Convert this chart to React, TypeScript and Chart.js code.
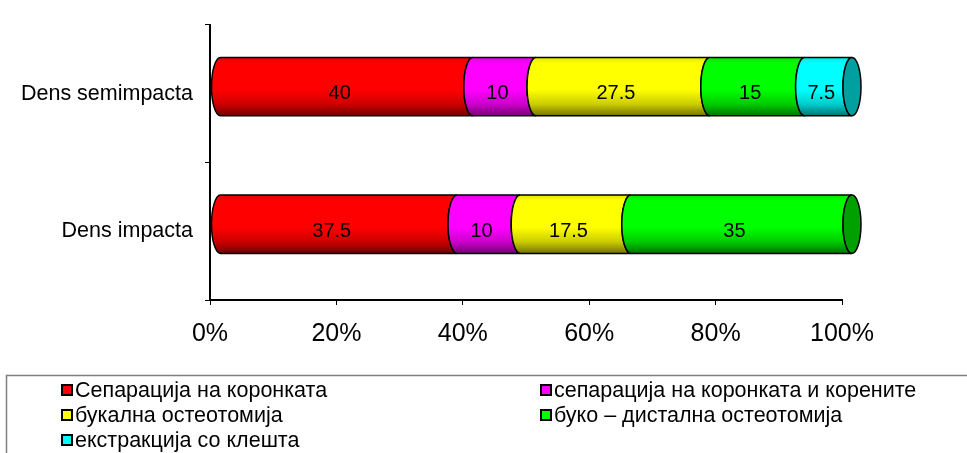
import { useEffect, useRef } from "react";
import { Chart, registerables } from "chart.js";

Chart.register(...registerables);

// Categories (top to bottom) and series values, in percent
const categories = ["Dens semimpacta", "Dens impacta"];
const seriesNames = [
  "Сепарација на коронката",
  "сепарација на коронката и корените",
  "букална остеотомија",
  "буко – дистална остеотомија",
  "екстракција со клешта",
];
const separacijaKoronka = [40, 37.5];
const separacijaKoreni = [10, 10];
const bukalnaOsteotomija = [27.5, 17.5];
const bukoDistalna = [15, 35];
const ekstrakcijaKlesta = [7.5, 0];
const xTickValues = [0, 20, 40, 60, 80, 100];

const faceColors = ["#ff0000", "#ff00ff", "#ffff00", "#00ff00", "#00ffff"];
const capColors = ["#a00000", "#a000a0", "#a0a000", "#00a000", "#00a0a0"];

const FONT = "'Liberation Sans', Arial, sans-serif";

function shade(hex: string, f: number): string {
  const n = parseInt(hex.slice(1), 16);
  const r = Math.round(((n >> 16) & 255) * f);
  const g = Math.round(((n >> 8) & 255) * f);
  const b = Math.round((n & 255) * f);
  return `rgb(${r},${g},${b})`;
}

// Draws each stacked segment as a piece of a horizontal cylinder
const cylinderPlugin = {
  id: "cylinders",
  afterDatasetsDraw(chart: any) {
    const ctx: CanvasRenderingContext2D = chart.ctx;
    const dx = 10; // depth shift of the cylinder
    const dy = -7;
    const rx = 9;
    const labels = chart.data.labels as string[];
    for (let i = 0; i < labels.length; i++) {
      let lastEnd: number | null = null;
      let lastCap = "";
      let cy = 0;
      let ry = 0;
      const texts: { x: number; y: number; t: string }[] = [];
      chart.data.datasets.forEach((ds: any, d: number) => {
        const v = ds.data[i];
        if (!v) return;
        const el = chart.getDatasetMeta(d).data[i];
        const p = el.getProps(["x", "y", "base", "height"], true);
        const xs = p.base + dx;
        const xe = p.x + dx;
        cy = p.y + dy;
        ry = p.height / 2;
        const top = cy - ry;
        const bottom = cy + ry;
        const grad = ctx.createLinearGradient(0, top, 0, bottom);
        const c = faceColors[d];
        grad.addColorStop(0, shade(c, 0.9));
        grad.addColorStop(0.1, c);
        grad.addColorStop(0.55, c);
        grad.addColorStop(0.8, shade(c, 0.8));
        grad.addColorStop(1, shade(c, 0.45));
        ctx.save();
        ctx.beginPath();
        ctx.moveTo(xs, top);
        ctx.ellipse(xs, cy, rx, ry, 0, -Math.PI / 2, Math.PI / 2, true);
        ctx.lineTo(xe, bottom);
        ctx.ellipse(xe, cy, rx, ry, 0, Math.PI / 2, (3 * Math.PI) / 2, false);
        ctx.closePath();
        ctx.fillStyle = grad;
        ctx.fill();
        ctx.lineWidth = 1.5;
        ctx.strokeStyle = "#000";
        ctx.stroke();
        ctx.restore();
        lastEnd = xe;
        lastCap = capColors[d];
        texts.push({ x: (p.base + p.x) / 2 + 3, y: p.y, t: String(v) });
      });
      if (lastEnd !== null) {
        ctx.save();
        ctx.beginPath();
        ctx.ellipse(lastEnd, cy, rx, ry, 0, 0, Math.PI * 2);
        ctx.fillStyle = lastCap;
        ctx.fill();
        ctx.lineWidth = 1.5;
        ctx.strokeStyle = "#000";
        ctx.stroke();
        ctx.restore();
      }
      ctx.save();
      ctx.fillStyle = "#000";
      ctx.font = `20px ${FONT}`;
      ctx.textAlign = "center";
      ctx.textBaseline = "middle";
      texts.forEach((t) => ctx.fillText(t.t, t.x, t.y));
      ctx.restore();
    }
  },
};

// Boxed two-column legend under the chart
const boxLegendPlugin = {
  id: "boxLegend",
  afterDraw(chart: any) {
    const ctx: CanvasRenderingContext2D = chart.ctx;
    const boxTop = 375.5;
    ctx.save();
    ctx.strokeStyle = "#808080";
    ctx.lineWidth = 1.5;
    ctx.strokeRect(6.5, boxTop, 1000, 200);
    const cols = [62, 541];
    const rows = [390, 415, 440];
    ctx.font = `21.5px ${FONT}`;
    ctx.textBaseline = "middle";
    ctx.textAlign = "left";
    chart.data.datasets.forEach((ds: any, d: number) => {
      const x = cols[d % 2];
      const y = rows[Math.floor(d / 2)];
      ctx.fillStyle = faceColors[d];
      ctx.fillRect(x, y - 5, 10, 10);
      ctx.lineWidth = 2;
      ctx.strokeStyle = "#000";
      ctx.strokeRect(x, y - 5, 10, 10);
      ctx.fillStyle = "#000";
      ctx.fillText(ds.label, x + 13, y + 1);
    });
    ctx.restore();
  },
};

export default function App() {
  const canvasRef = useRef<HTMLCanvasElement | null>(null);

  useEffect(() => {
    const canvas = canvasRef.current;
    if (!canvas) return;
    const series = [
      separacijaKoronka,
      separacijaKoreni,
      bukalnaOsteotomija,
      bukoDistalna,
      ekstrakcijaKlesta,
    ];
    const chart = new Chart(canvas, {
      type: "bar",
      data: {
        labels: categories,
        datasets: series.map((values, i) => ({
          label: seriesNames[i],
          data: values,
          backgroundColor: "rgba(0,0,0,0)",
          borderWidth: 0,
          barPercentage: 0.424,
          categoryPercentage: 1,
        })),
      },
      options: {
        indexAxis: "y",
        responsive: false,
        animation: false,
        events: [],
        layout: { padding: { top: 17, right: 125, left: 0, bottom: 0 } },
        plugins: {
          legend: { display: false },
          tooltip: { enabled: false },
        },
        scales: {
          x: {
            stacked: true,
            min: 0,
            max: 100,
            afterBuildTicks: (scale: any) => {
              scale.ticks = xTickValues.map((v) => ({ value: v }));
            },
            afterFit: (scale: any) => {
              scale.height = 153;
            },
            ticks: {
              callback: (v: any) => `${v}%`,
              color: "#000",
              font: { family: FONT, size: 25 },
              padding: 14,
              maxRotation: 0,
            },
            grid: {
              drawOnChartArea: false,
              drawTicks: true,
              tickLength: 5,
              color: "#000",
            },
            border: { display: true, color: "#000", width: 2 },
          },
          y: {
            stacked: true,
            afterFit: (scale: any) => {
              scale.width = 210;
            },
            ticks: {
              color: "#000",
              font: { family: FONT, size: 21.5 },
              padding: 12,
            },
            grid: {
              offset: true,
              drawOnChartArea: false,
              drawTicks: true,
              tickLength: 5,
              color: "#000",
            },
            border: { display: true, color: "#000", width: 2 },
          },
        },
      },
      plugins: [cylinderPlugin, boxLegendPlugin],
    });
    return () => chart.destroy();
  }, []);

  return (
    <div
      style={{
        position: "fixed",
        left: 0,
        top: 0,
        width: 967,
        height: 453,
        background: "#fff",
      }}
    >
      <canvas ref={canvasRef} width={967} height={453} />
    </div>
  );
}
